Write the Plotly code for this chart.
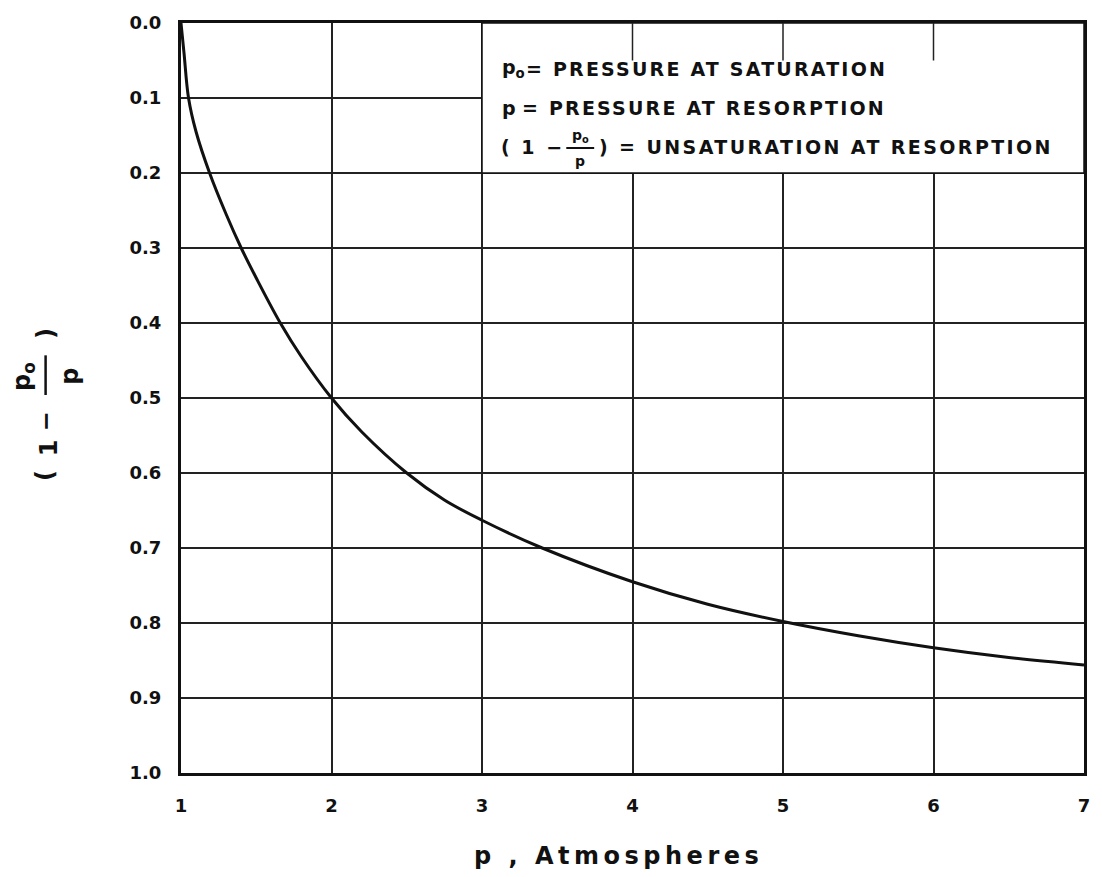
import plotly.graph_objects as go

# ---- data ----
pressure = [1.0, 1.02, 1.05, 1.1, 1.19, 1.3, 1.4, 1.5, 1.66, 1.8, 2.0, 2.2,
            2.5, 2.75, 3.0, 3.4, 4.0, 4.5, 5.0, 5.5, 6.0, 6.5, 7.0]
unsaturation = [0.0, 0.04, 0.1, 0.145, 0.2, 0.255, 0.3, 0.34, 0.4, 0.445, 0.5, 0.545,
                0.6, 0.636, 0.663, 0.7, 0.745, 0.775, 0.798, 0.817, 0.833, 0.846, 0.856]
x_ticks = [1, 2, 3, 4, 5, 6, 7]
x_ticktext = ["1", "2", "3", "4", "5", "6", "7"]
y_ticks = [0.0, 0.1, 0.2, 0.3, 0.4, 0.5, 0.6, 0.7, 0.8, 0.9, 1.0]
y_ticktext = ["0.0", "0.1", "0.2", "0.3", "0.4", "0.5", "0.6", "0.7", "0.8", "0.9", "1.0"]

FONT = "DejaVu Sans"
INK = "#111111"

L, R, T, B = 181, 14, 17, 104
W, H = 1102, 877
PW, PH = W - L - R, H - T - B


def px(x):
    return (x - L) / PW


def py(y):
    return (H - B - y) / PH


def spaced(s, sp):
    return f'<span style="letter-spacing:{sp}px">{s}</span>'


fig = go.Figure()
fig.add_trace(go.Scatter(x=pressure, y=unsaturation, mode="lines",
                         line=dict(color=INK, width=3, shape="spline", smoothing=1.0),
                         showlegend=False, hoverinfo="skip"))

axis_common = dict(showgrid=True, gridcolor="#222222", gridwidth=1.5,
                   showline=True, linecolor=INK, linewidth=3, mirror=True,
                   zeroline=False, ticks="",
                   tickfont=dict(family=FONT, size=18, color=INK, weight="bold"))

fig.update_xaxes(range=[1, 7], tickvals=x_ticks, ticktext=x_ticktext,
                 ticklabelstandoff=14, **axis_common)
fig.update_yaxes(range=[1, 0], tickvals=y_ticks, ticktext=y_ticktext,
                 ticklabelstandoff=13, **axis_common)

shapes = [
    # white legend box covering the grid in the upper right
    dict(type="rect", xref="x", yref="y", x0=3, x1=7, y0=0, y1=0.2,
         fillcolor="white", line=dict(color=INK, width=1.5), layer="between"),
]
# short grid stubs under the top frame inside the box
for xs in [4, 5, 6]:
    shapes.append(dict(type="line", xref="x", yref="y", x0=xs, x1=xs, y0=0, y1=0.05,
                       line=dict(color="#222222", width=1.5), layer="between"))
# fraction bar inside legend line 3
shapes.append(dict(type="line", xref="paper", yref="paper", x0=px(568), x1=px(596),
                   y0=py(143), y1=py(143), line=dict(color=INK, width=2)))
# fraction bar of the y-axis title
shapes.append(dict(type="line", xref="paper", yref="paper", x0=px(45), x1=px(45),
                   y0=py(352), y1=py(392), line=dict(color=INK, width=2.5)))

fig.update_layout(shapes=shapes)

ann = []
lf = dict(family=FONT, size=19, color=INK, weight="bold")
sf = dict(family=FONT, size=14, color=INK, weight="bold")
# legend text
ann.append(dict(x=px(501), y=py(63), text="p<sub>o</sub>", font=lf))
ann.append(dict(x=px(526), y=py(63), text=spaced("= PRESSURE AT SATURATION", 2.2), font=lf))
ann.append(dict(x=px(501), y=py(103), text="p", font=lf))
ann.append(dict(x=px(522), y=py(103), text=spaced("= PRESSURE AT RESORPTION", 2.2), font=lf))
ann.append(dict(x=px(500), y=py(142), text=spaced("( 1 −", 2.5), font=lf))
ann.append(dict(x=px(582), y=py(131), text="p<sub>o</sub>", font=sf, xanchor="center"))
ann.append(dict(x=px(582), y=py(156), text="p", font=sf, xanchor="center"))
ann.append(dict(x=px(599), y=py(142), text=spaced(") = UNSATURATION AT RESORPTION", 2.4), font=lf))
for a in ann:
    a.setdefault("xanchor", "left")
    a.update(xref="paper", yref="paper", yanchor="middle", showarrow=False)

tf = dict(family=FONT, size=24, color=INK, weight="bold")
# x-axis title
ann.append(dict(x=px(620), y=py(857), xref="paper", yref="paper", showarrow=False,
                text=spaced("p , Atmospheres", 4.5), font=tf,
                xanchor="center", yanchor="middle"))
# y-axis title pieces, rotated
ytitle = [("(", 45, 473), ("1", 48, 445), ("−", 45, 419),
          ("p<sub>o</sub>", 22, 373), ("p", 70, 373), (")", 45, 330)]
for txt, xx, yy in ytitle:
    ann.append(dict(x=px(xx), y=py(yy), xref="paper", yref="paper", showarrow=False,
                    text=txt, font=tf, textangle=-90,
                    xanchor="center", yanchor="middle"))

fig.update_layout(annotations=ann,
                  width=W, height=H,
                  margin=dict(l=L, r=R, t=T, b=B),
                  paper_bgcolor="white", plot_bgcolor="white")

fig.write_html("out.html")
